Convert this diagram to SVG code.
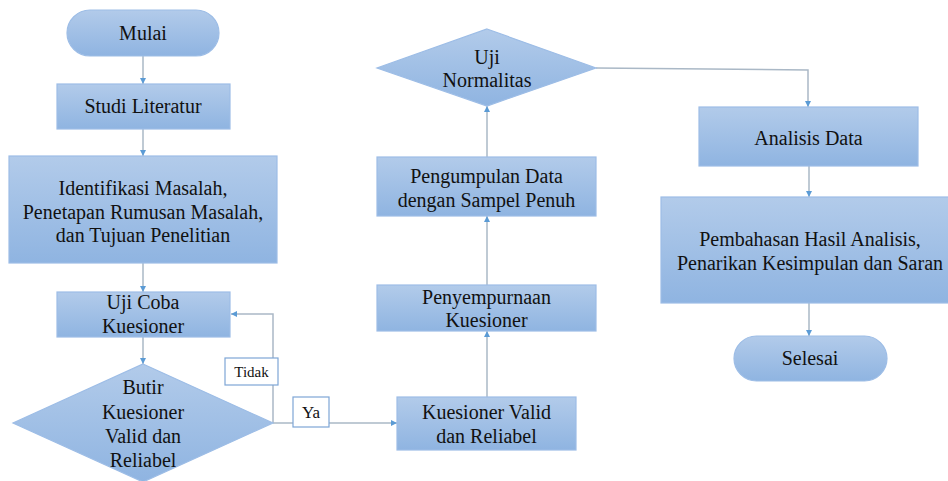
<svg xmlns="http://www.w3.org/2000/svg" width="948" height="481" viewBox="0 0 948 481">
<defs>
<linearGradient id="g" x1="0" y1="0" x2="0" y2="1">
<stop offset="0" stop-color="#b2cbea"/>
<stop offset="1" stop-color="#8fb4e1"/>
</linearGradient>
<marker id="ah" viewBox="0 0 10 10" refX="10" refY="5" markerWidth="4" markerHeight="4" orient="auto" markerUnits="strokeWidth">
<path d="M0,0 L10,5 L0,10 z" fill="#5b9bd5"/>
</marker>
<style>
.n{fill:url(#g);stroke:#9dbde6;stroke-width:1.2}
.c{fill:none;stroke:#aab8c6;stroke-width:1.5;marker-end:url(#ah)}
.lb{fill:#fff;stroke:#7ea6d6;stroke-width:1.2}
</style>
</defs>
<rect width="948" height="481" fill="#fff"/>
<g id="connectors">
<path class="c" d="M143,56 V84"/>
<path class="c" d="M143,129 V156"/>
<path class="c" d="M143,263 V292"/>
<path class="c" d="M143,337 V364"/>
<path class="c" d="M273,423 V314 H231"/>
<path class="c" d="M273,423 H397"/>
<path class="c" d="M487,397 V331"/>
<path class="c" d="M487,285 V216"/>
<path class="c" d="M487,157 V106"/>
<path class="c" d="M596,68 L808,70 V107"/>
<path class="c" d="M809,166 V197"/>
<path class="c" d="M809,303 V336"/>
</g>
<g font-family="Liberation Serif, Times New Roman, serif" font-size="20" fill="#111" text-anchor="middle">
<g id="mulai"><rect class="n" x="67" y="10" width="152" height="46" rx="23"/><text x="143" y="40">Mulai</text></g>
<g id="studi"><rect class="n" x="57" y="84" width="173" height="45"/><text x="143" y="113">Studi Literatur</text></g>
<g id="identifikasi"><rect class="n" x="9" y="156" width="268" height="107"/>
<text x="143" y="195">Identifikasi Masalah,</text>
<text x="143" y="219">Penetapan Rumusan Masalah,</text>
<text x="143" y="242">dan Tujuan Penelitian</text></g>
<g id="ujicoba"><rect class="n" x="57" y="292" width="173" height="45"/>
<text x="143" y="309">Uji Coba</text>
<text x="143" y="333">Kuesioner</text></g>
<g id="butir"><path class="n" d="M143,364 L273,423 L143,482 L13,423 Z"/>
<text x="143" y="394">Butir</text>
<text x="143" y="419">Kuesioner</text>
<text x="143" y="443">Valid dan</text>
<text x="143" y="467">Reliabel</text></g>
<g id="tidak"><rect class="lb" x="225" y="358" width="53" height="27"/><text x="251.5" y="377" font-size="15">Tidak</text></g>
<g id="ya"><rect class="lb" x="293" y="397" width="36" height="30"/><text x="311" y="418" font-size="17">Ya</text></g>
<g id="valid"><rect class="n" x="397" y="397" width="179" height="53"/>
<text x="486.5" y="419">Kuesioner Valid</text>
<text x="486.5" y="443">dan Reliabel</text></g>
<g id="penyempurnaan"><rect class="n" x="377" y="285" width="219" height="46"/>
<text x="486.5" y="304">Penyempurnaan</text>
<text x="486.5" y="327">Kuesioner</text></g>
<g id="pengumpulan"><rect class="n" x="377" y="157" width="219" height="59"/>
<text x="486.5" y="183">Pengumpulan Data</text>
<text x="486.5" y="207">dengan Sampel Penuh</text></g>
<g id="normalitas"><path class="n" d="M487,29 L596,68 L487,106 L377,68 Z"/>
<text x="487" y="64">Uji</text>
<text x="487" y="87">Normalitas</text></g>
<g id="analisis"><rect class="n" x="699" y="107" width="219" height="59"/><text x="808.5" y="145">Analisis Data</text></g>
<g id="pembahasan"><rect class="n" x="661" y="197" width="296" height="106"/>
<text x="810" y="246">Pembahasan Hasil Analisis,</text>
<text x="810" y="270">Penarikan Kesimpulan dan Saran</text></g>
<g id="selesai"><rect class="n" x="734" y="336" width="153" height="45" rx="22.5"/><text x="810" y="365">Selesai</text></g>
</g>
</svg>
